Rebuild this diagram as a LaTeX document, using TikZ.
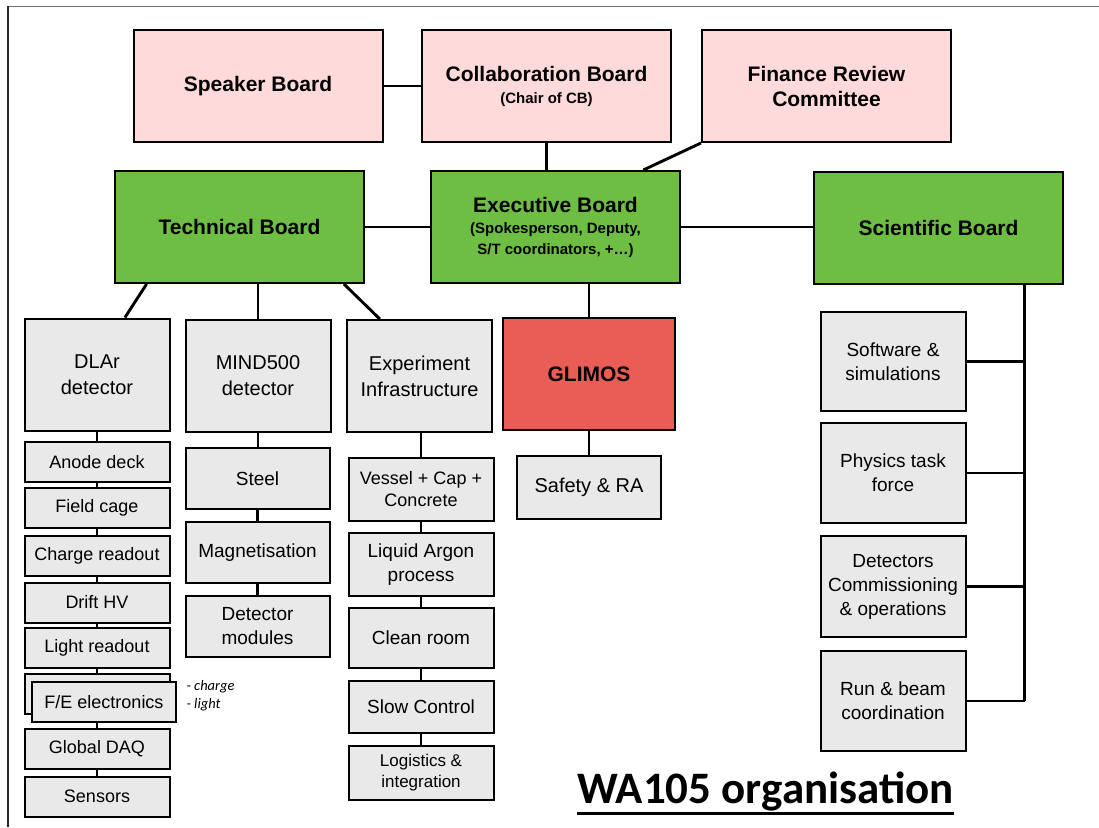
\documentclass[tikz,border=0pt]{standalone}
\usepackage{fontspec}
\setmainfont{Liberation Sans}
\newfontfamily\calfont{Carlito}
\usepackage{tikz}
\usetikzlibrary{positioning,calc}
\definecolor{pinkbd}{HTML}{FFDADA}
\definecolor{greenbd}{HTML}{6EBE44}
\definecolor{greybx}{HTML}{E9E9E9}
\definecolor{redbx}{HTML}{EA5D56}
\tikzset{
  box/.style ={draw=black, line width=2pt, inner sep=2pt, align=center},
  brd/.style ={box, fill=pinkbd, minimum width=249pt, minimum height=112pt, font=\fontsize{21}{25}\selectfont\bfseries},
  grn/.style ={box, fill=greenbd, minimum width=249pt, minimum height=112pt, font=\fontsize{21}{25}\selectfont\bfseries},
  sub/.style ={box, fill=greybx, minimum width=145pt, minimum height=112pt, font=\fontsize{20}{26}\selectfont},
  task/.style={box, fill=greybx, minimum width=145pt, font=\fontsize{19}{24}\selectfont},
  dl/.style  ={task, minimum height=40pt, font=\fontsize{18}{22}\selectfont},
  lnk/.style ={line width=2.9pt},
}

\begin{document}
\begin{tikzpicture}[x=1pt, y=-1pt]
  \useasboundingbox[fill=white] (0,0) rectangle (1099,827);
  % slide frame
  \draw[black!55, line width=1.5pt] (8,6.5) -- (1099,6.5);
  \draw[black!85, line width=1.5pt] (8,6) -- (8,827);

  % boards
  \node[brd] (spk) at (258,86)   {Speaker Board};
  \node[brd] (cb)  at (546.5,86) {Collaboration Board\\[-3pt]{\fontsize{15}{18}\selectfont (Chair of CB)}};
  \node[brd] (frc) at (826.5,86) {Finance Review\\Committee};
  \node[grn] (tb)  at (239.5,227) {Technical Board};
  \node[grn] (eb)  at (555.5,227) {Executive Board\\[-4pt]{\fontsize{15}{21}\selectfont (Spokesperson, Deputy,}\\[-4pt]{\fontsize{15}{21}\selectfont S/T coordinators, +\ldots)}};
  \node[grn] (sb)  at (938.5,228) {Scientific Board};

  % technical board
  \node[sub] (dlar) at (97,374.5)  {DLAr\\detector};
  \node[sub] (mind) at (258,376)   {MIND500\\detector};
  \node[sub] (infra) at (419.5,376) {Experiment\\Infrastructure};

  \node[dl] (anode) at (97,462)   {Anode deck};
  \node[dl] (fcage) at (97,508)   {Field cage};
  \node[dl] (chro)  at (97,555.5) {Charge readout};
  \node[dl] (hv)    at (97,602.5) {Drift HV};
  \node[dl] (ligro) at (97,648)   {Light readout};
  \node[dl] (fe0)   at (97,693.5) {};
  \node[dl, minimum width=144pt] (fe) at (104,702) {F/E electronics};
  \node[dl] (daq)   at (97,748.5) {Global DAQ};
  \node[dl] (sens)  at (97,796.5) {Sensors};
  \node[anchor=west, align=left, font=\calfont\itshape\fontsize{14.5}{18}\selectfont] (fenote) at (183,696) {- charge\\- light};

  \node[task, minimum width=144pt, minimum height=61pt] (steel) at (257.5,478.5) {Steel};
  \node[task, minimum width=144pt, minimum height=61pt] (magn)  at (257.5,552.5) {Magnetisation};
  \node[task, minimum width=144pt, minimum height=61pt] (dmod)  at (257.5,626.5) {Detector\\modules};

  \node[task, minimum height=63pt, font=\fontsize{18}{22}\selectfont] (vess) at (421,489.5) {Vessel + Cap +\\Concrete};
  \node[task, minimum height=63pt] (lar)   at (421,564.5) {Liquid Argon\\process};
  \node[task, minimum height=60pt] (clean) at (421,638)   {Clean room};
  \node[task, minimum height=52pt] (slow)  at (421,707)   {Slow Control};
  \node[task, minimum height=54pt, font=\fontsize{17}{21}\selectfont] (logi) at (421,773) {Logistics \&\\integration};

  % executive board
  \node[box, fill=redbx, minimum width=172pt, minimum height=112pt, font=\fontsize{21}{25}\selectfont\bfseries] (glim) at (589,374) {GLIMOS};
  \node[task, minimum width=144pt, minimum height=63pt, font=\fontsize{20}{24}\selectfont] (safe) at (589,487.5) {Safety \& RA};

  % scientific board
  \node[task, minimum height=99pt]  (soft) at (893,361.5) {Software \&\\simulations};
  \node[task, minimum height=100pt] (phys) at (893,473)   {Physics task\\force};
  \node[task, minimum height=101pt] (dcom) at (893,586.5) {Detectors\\Commissioning\\\& operations};
  \node[task, minimum height=100pt] (run)  at (893,701)   {Run \& beam\\coordination};

  % links
  \draw[lnk] (spk.east) -- (cb.west |- spk.east);
  \draw[lnk] (cb.south) -- (cb.south |- eb.north);
  \draw[lnk] (frc.south west) -- ($(eb.north west)!0.85!(eb.north east)$);
  \draw[lnk] (tb.east) -- (eb.west);
  \draw[lnk] (eb.east) -- (sb.west |- eb.east);

  \draw[lnk] ($(tb.south west)!0.13!(tb.south east)$) -- ($(dlar.north west)!0.69!(dlar.north east)$);
  \draw[lnk] (tb.south -| mind.north) -- (mind.north);
  \draw[lnk] ($(tb.south west)!0.916!(tb.south east)$) -- ($(infra.north west)!0.23!(infra.north east)$);

  \draw[lnk] (dlar) -- (anode);
  \foreach \a/\b in {anode/fcage, fcage/chro, chro/hv, hv/ligro, ligro/fe0, daq/sens}
    \draw[lnk] (\a.south) -- (\b.north);
  \draw[lnk] (fe.south -| daq.north) -- (daq.north);

  \foreach \a/\b in {mind/steel, steel/magn, magn/dmod}
    \draw[lnk] (\a.south) -- (\a.south |- \b.north);
  \foreach \a/\b in {infra/vess, vess/lar, lar/clean, clean/slow, slow/logi}
    \draw[lnk] (\a.south -| vess.north) -- (\b.north -| vess.north);

  \draw[lnk] (eb.south -| glim.north) -- (glim.north);
  \draw[lnk] (glim) -- (safe);

  \coordinate (sbus) at ($(sb.south west)!0.843!(sb.south east)$);
  \draw[lnk] (sbus) -- (sbus |- run.east);
  \foreach \t in {soft, phys, dcom, run}
    \draw[lnk] (\t.east) -- (\t.east -| sbus);

  % title
  \node[anchor=base west, inner sep=0pt, font=\calfont\bfseries\fontsize{45}{50}\selectfont] (ttl) at (577,803) {WA105 organisation};
  \draw[line width=3pt] ([yshift=-10pt]ttl.base west) -- ([yshift=-10pt]ttl.base east);
\end{tikzpicture}
\end{document}
